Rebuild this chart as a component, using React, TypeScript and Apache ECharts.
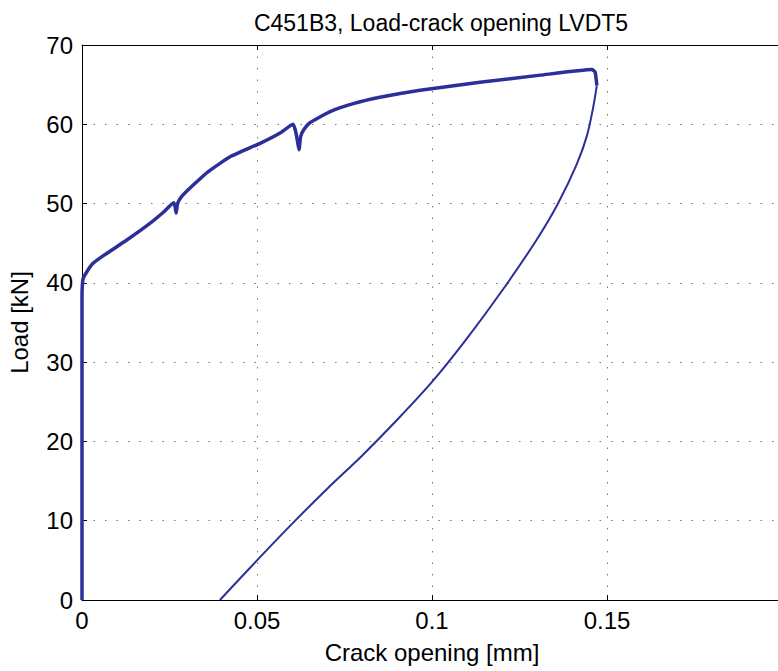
import React, { useEffect, useRef } from "react";
import * as echarts from "echarts";

const titleText = "C451B3, Load-crack opening LVDT5";
const xName = "Crack opening [mm]";
const yName = "Load [kN]";

const loadingX = [0, 0, 0.0003, 0.0014, 0.003, 0.006, 0.0128, 0.0194, 0.0235, 0.0262, 0.0266, 0.0269, 0.0273, 0.0285, 0.0317, 0.036, 0.0423, 0.0509, 0.0566, 0.0603, 0.0611, 0.0617, 0.062, 0.0625, 0.0635, 0.0651, 0.0709, 0.0775, 0.0851, 0.0966, 0.1137, 0.131, 0.1457, 0.1466, 0.1471];
const loadingY = [0, 38, 40.5, 41.4, 42.4, 43.4, 45.4, 47.5, 49.0, 50.1, 49.6, 48.8, 50.0, 50.9, 52.3, 54.0, 55.9, 57.6, 58.9, 60.0, 59.0, 57.5, 56.8, 58.5, 59.4, 60.2, 61.6, 62.6, 63.4, 64.3, 65.3, 66.2, 66.9, 66.6, 64.9];

const unloadingX = [0.1471, 0.146, 0.1443, 0.1414, 0.136, 0.13, 0.12, 0.11, 0.1, 0.09, 0.08, 0.07, 0.06, 0.05, 0.0394];
const unloadingY = [64.9, 62, 58.6, 55.0, 50.0, 45.5, 39.0, 33.0, 27.5, 22.7, 18.2, 14.0, 9.6, 5.0, 0];

const FONT = "'Liberation Sans', Arial, Helvetica, sans-serif";
const LINE_COLOR = "#2b2f97";

export default function App() {
  const ref = useRef<HTMLDivElement>(null);
  useEffect(() => {
    if (!ref.current) return;
    const chart = echarts.init(ref.current, undefined, { renderer: "svg" });
    const pair = (xs: number[], ys: number[]) => xs.map((x, i) => [x, ys[i]]);
    const axisCommon = {
      type: "value" as const,
      axisLine: { show: true, lineStyle: { color: "#000", width: 1 } },
      axisTick: { show: true, inside: true, length: 5, lineStyle: { color: "#000" } },
    };
    chart.setOption({
      animation: false,
      backgroundColor: "#fff",
      textStyle: { fontFamily: FONT },
      title: {
        text: titleText,
        left: 436,
        top: 6,
        textAlign: "center",
        textStyle: { fontFamily: FONT, fontSize: 23, fontWeight: "normal", color: "#000" },
      },
      grid: { left: 82, top: 45, width: 700, height: 555, outerBoundsMode: "none", containLabel: false },
      xAxis: [
        {
          ...axisCommon,
          min: 0,
          max: 0.2,
          interval: 0.05,
          name: xName,
          nameLocation: "middle",
          nameGap: 40,
          nameTextStyle: { fontFamily: FONT, fontSize: 24, color: "#000" },
          axisLabel: {
            fontFamily: FONT,
            fontSize: 24,
            color: "#000",
            margin: 8,
            formatter: (v: number) => (Math.abs(v - 0.2) < 1e-9 ? "" : String(+v.toFixed(2))),
          },
          splitLine: { show: true, lineStyle: { color: "#777", type: [1.5, 10], width: 1 } },
        },
        {
          ...axisCommon,
          position: "top",
          min: 0,
          max: 0.2,
          interval: 0.05,
          axisLabel: { show: false },
          splitLine: { show: false },
        },
      ],
      yAxis: {
        ...axisCommon,
        min: 0,
        max: 70,
        interval: 10,
        name: yName,
        nameLocation: "middle",
        nameGap: 51,
        nameTextStyle: { fontFamily: FONT, fontSize: 24, color: "#000" },
        axisLabel: { fontFamily: FONT, fontSize: 24, color: "#000", margin: 9 },
        splitLine: { show: true, lineStyle: { color: "#777", type: [1.5, 10], width: 1 } },
      },
      series: [
        {
          type: "line",
          xAxisIndex: 0,
          data: pair(loadingX, loadingY),
          showSymbol: false,
          symbol: "none",
          smooth: 0.15,
          lineStyle: { color: LINE_COLOR, width: 3.5 },
          z: 3,
        },
        {
          type: "line",
          xAxisIndex: 0,
          data: pair(unloadingX, unloadingY),
          showSymbol: false,
          symbol: "none",
          smooth: 0.3,
          lineStyle: { color: LINE_COLOR, width: 2 },
          z: 3,
        },
      ],
    });
    return () => chart.dispose();
  }, []);
  return (
    <div style={{ position: "fixed", left: 0, top: 0, width: 778, height: 671, overflow: "hidden", background: "#fff" }}>
      <div ref={ref} style={{ width: 800, height: 671 }} />
    </div>
  );
}
